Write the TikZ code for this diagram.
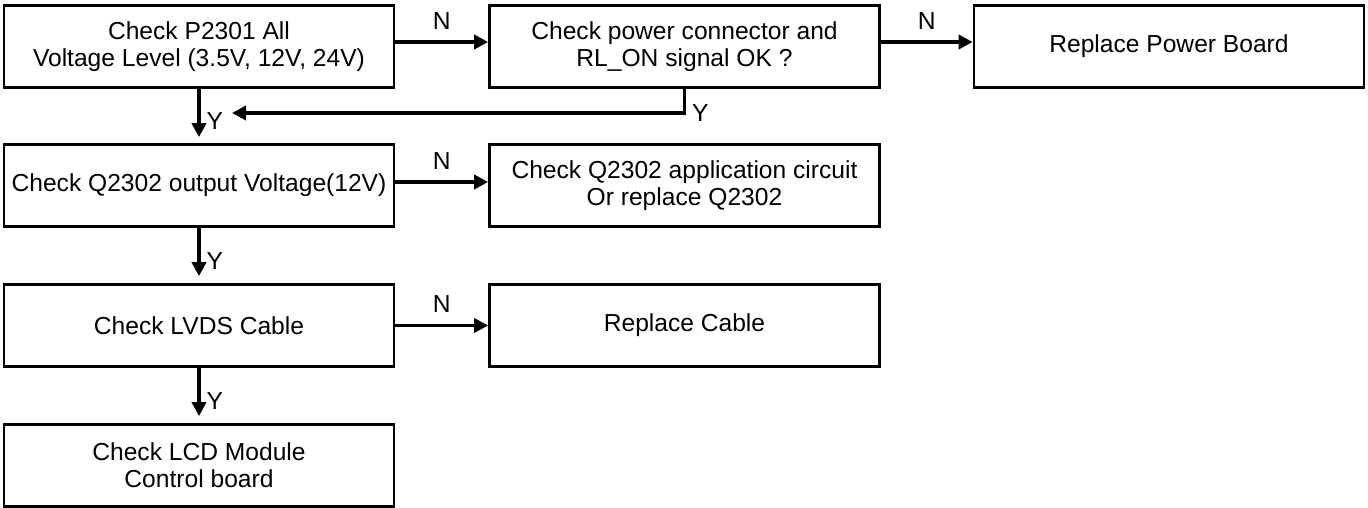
\documentclass[tikz,border=0pt]{standalone}
\usepackage{fontspec}
\setmainfont{Liberation Sans}
\usetikzlibrary{arrows.meta}

\begin{document}
\begin{tikzpicture}[
    box/.style={draw, line width=1.5pt, minimum width=7.8cm, minimum height=1.64cm, align=center, inner sep=0pt},
    arr/.style={-{Triangle[length=0.28cm, width=0.28cm]}, line width=2.1pt},
    font=\fontsize{14}{15.5}\selectfont
]
    \useasboundingbox (0,0) rectangle (27.36,-10.16);

    \node[box] (p2301)   at (3.98,-0.93)  {Check P2301 All\\Voltage Level (3.5V, 12V, 24V)};
    \node[box] (pwrconn) at (13.69,-0.93) {Check power connector and\\RL\_ON signal OK ?};
    \node[box] (pwrbrd)  at (23.38,-0.93) {Replace Power Board};

    \node[box] (q2302)   at (3.98,-3.71)  {Check Q2302 output Voltage(12V)};
    \node[box] (q2302ap) at (13.69,-3.71) {Check Q2302 application circuit\\Or replace Q2302};

    \node[box] (lvds)    at (3.98,-6.51)  {Check LVDS Cable};
    \node[box] (cable)   at (13.69,-6.51) {Replace Cable};

    \node[box] (lcd)     at (3.98,-9.31)  {Check LCD Module\\Control board};

    \draw[arr] ([yshift=0.09cm]p2301.east) -- ([yshift=0.09cm]pwrconn.west) node[midway, above=3pt] {N};
    \draw[arr] ([yshift=0.09cm]pwrconn.east) -- ([yshift=0.09cm]pwrbrd.west) node[midway, above=3pt] {N};
    \draw[arr] ([yshift=0.07cm]q2302.east) -- ([yshift=0.07cm]q2302ap.west) node[midway, above=3pt] {N};
    \draw[arr] (lvds.east) -- (cable.west) node[midway, above=3pt] {N};

    \coordinate (back) at (4.64,-2.26);
    \draw[arr] (pwrconn.south) |- (back) node[pos=0.5, right] {Y};

    \draw[arr, shorten >=0.12cm] (p2301.south) -- (q2302.north) node[pos=0.6, right] {Y};
    \draw[arr, shorten >=0.14cm] (q2302.south) -- (lvds.north) node[pos=0.6, right] {Y};
    \draw[arr, shorten >=0.14cm] (lvds.south) -- (lcd.north) node[pos=0.6, right] {Y};
\end{tikzpicture}
\end{document}
